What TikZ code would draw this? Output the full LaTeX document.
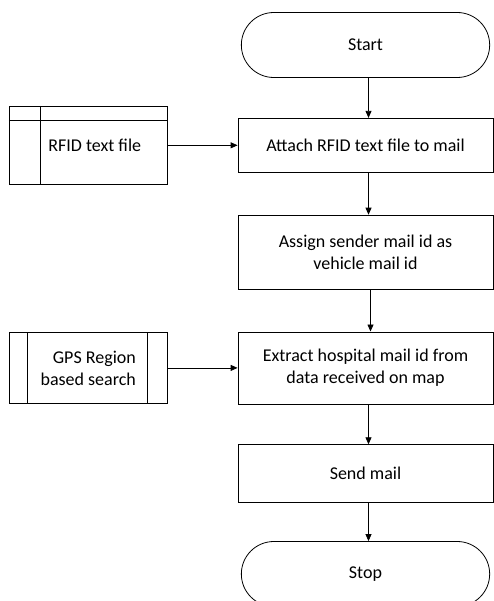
\documentclass[tikz,border=0pt]{standalone}
\usepackage{fontspec}
\setmainfont{Carlito}
\usetikzlibrary{arrows.meta, positioning, calc, shapes.misc}

\begin{document}
\begin{tikzpicture}[x=1pt, y=1pt,
    every node/.style={font=\fontsize{18}{22}\selectfont},
    terminal/.style={draw, rounded rectangle, line width=0.8pt, minimum width=255pt, minimum height=65pt},
    process/.style={draw, line width=0.8pt, minimum width=255pt, align=center},
    datafile/.style={draw, line width=0.8pt, minimum width=158pt, align=right},
    flowarrow/.style={-{Triangle[length=7pt,width=6pt]}, line width=0.8pt},
    node distance=40pt
]
    \useasboundingbox (0,0) rectangle (494,-601);

    % Main flow
    \node[terminal] at (365.5,-45) (start) {Start};
    \node[process, minimum height=54pt, below=40pt of start] (attach) {Attach RFID text file to mail};
    \node[process, minimum height=74pt, below=42pt of attach] (assign) {Assign sender mail id as\\vehicle mail id};
    \node[process, minimum height=72pt, below=42pt of assign] (extract) {Extract hospital mail id from\\data received on map};
    \node[process, minimum height=58pt, below=40pt of extract] (send) {Send mail};
    \node[terminal, below=38pt of send] (stop) {Stop};

    % Side inputs
    \node[datafile, minimum height=78pt, left=70pt of attach] (rfid) {\hspace*{13pt}RFID text file};
    \draw[line width=0.8pt] ($(rfid.north west)+(32,0)$) -- ($(rfid.south west)+(32,0)$);
    \draw[line width=0.8pt] ($(rfid.north west)+(0,-15)$) -- ($(rfid.north east)+(0,-15)$);

    \node[datafile, minimum height=71pt, left=70pt of extract] (gps) {GPS Region\\based search};
    \draw[line width=0.8pt] ($(gps.north west)+(19,0)$) -- ($(gps.south west)+(19,0)$);
    \draw[line width=0.8pt] ($(gps.north east)+(-20,0)$) -- ($(gps.south east)+(-20,0)$);

    % Arrows
    \draw[flowarrow] ([xshift=3pt]start.south) -- ([xshift=3pt]attach.north);
    \draw[flowarrow] ([xshift=3pt]attach.south) -- ([xshift=3pt]assign.north);
    \draw[flowarrow] ([xshift=5pt]assign.south) -- ([xshift=5pt]extract.north);
    \draw[flowarrow] ([xshift=3pt]extract.south) -- ([xshift=3pt]send.north);
    \draw[flowarrow] ([xshift=3pt]send.south) -- ([xshift=3pt]stop.north);
    \draw[flowarrow] (rfid) -- (attach);
    \draw[flowarrow] (gps) -- (extract);
\end{tikzpicture}
\end{document}
